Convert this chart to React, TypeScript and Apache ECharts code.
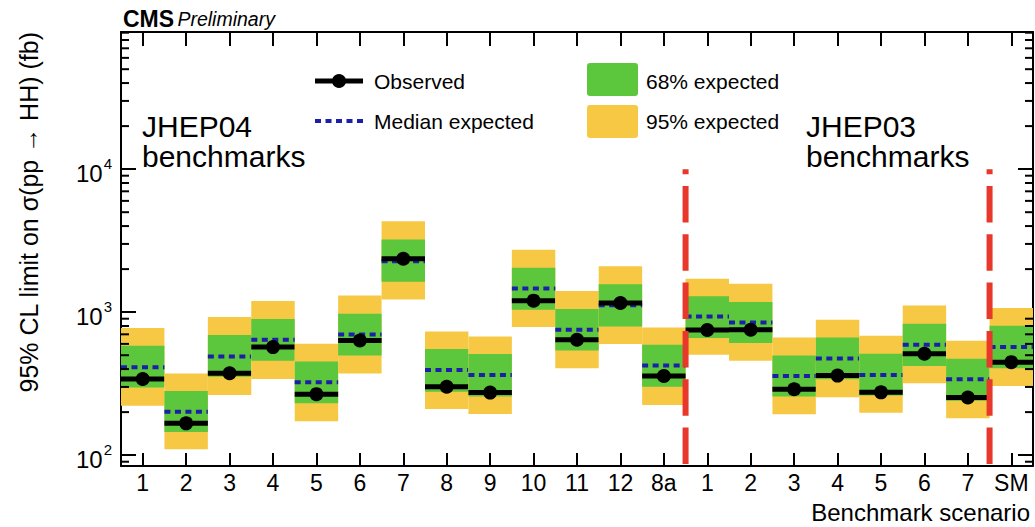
import React, { useEffect, useRef } from 'react';
import * as echarts from 'echarts';

const FONT = '"Liberation Sans", Arial, Helvetica, sans-serif';

// Benchmark categories (JHEP04 1..12, 8a ; JHEP03 1..7 ; SM)
const categories = ['1', '2', '3', '4', '5', '6', '7', '8', '9', '10', '11', '12', '8a', '1', '2', '3', '4', '5', '6', '7', 'SM'];

// 95% CL upper limits (fb)
const observed = [341, 167, 374, 570, 267, 634, 2362, 301, 274, 1204, 641, 1160, 358, 750, 754, 289, 360, 275, 512, 253, 447];
const expectedMedian = [412, 201, 490, 641, 324, 698, 2269, 394, 364, 1462, 754, 1116, 423, 934, 848, 358, 474, 364, 592, 340, 570];
const expected68Low = [297, 145, 354, 457, 231, 498, 1629, 278, 257, 1041, 540, 795, 301, 659, 608, 257, 340, 261, 421, 240, 406];
const expected68High = [582, 281, 692, 896, 452, 976, 3228, 552, 509, 2043, 1053, 1567, 592, 1291, 1179, 498, 665, 512, 830, 472, 804];
const expected95Low = [222, 110, 264, 341, 173, 372, 1224, 210, 194, 787, 406, 598, 224, 504, 457, 193, 254, 198, 318, 181, 305];
const expected95High = [774, 372, 925, 1199, 601, 1306, 4315, 733, 676, 2733, 1408, 2096, 782, 1710, 1578, 665, 886, 684, 1111, 631, 1070];

// axis range and minor ticks
const yMin = 84;
const yMax = 91000;
const minorTickValues = [
  90,
  200, 300, 400, 500, 600, 700, 800, 900,
  2000, 3000, 4000, 5000, 6000, 7000, 8000, 9000,
  20000, 30000, 40000, 50000, 60000, 70000, 80000, 90000,
];

// dividers drawn after these category indices (8a and JHEP03 7), up to this value
const dividerAfter = [12, 19];
const dividerTop = 10000;

const GREEN = '#5cc63c';
const YELLOW = '#f7c844';
const BLUE = '#1c1fa8';
const RED = '#e8372b';

export default function App() {
  const ref = useRef<HTMLDivElement>(null);

  useEffect(() => {
    const chart = echarts.init(ref.current as HTMLDivElement, null, { renderer: 'svg' });

    const bandData = categories.map((_, i) => [
      i,
      expected95Low[i],
      expected68Low[i],
      expectedMedian[i],
      observed[i],
      expected68High[i],
      expected95High[i],
    ]);

    const tickStyle = { color: '#000', width: 2 };
    const axisLineStyle = { color: '#000', width: 2 };

    const option: any = {
      animation: false,
      grid: { left: 121, right: 2, top: 32, bottom: 61, containLabel: false },
      xAxis: [
        {
          type: 'category',
          data: categories,
          position: 'bottom',
          boundaryGap: true,
          axisLine: { show: true, lineStyle: axisLineStyle },
          axisTick: { show: true, inside: true, alignWithLabel: true, interval: 0, length: 13, lineStyle: tickStyle },
          axisLabel: { interval: 0, color: '#000', fontSize: 23, fontFamily: FONT, margin: 5 },
          splitLine: { show: false },
          name: 'Benchmark scenario',
          nameLocation: 'end',
          nameGap: -3,
          nameTextStyle: {
            fontSize: 24,
            fontFamily: FONT,
            color: '#000',
            align: 'right',
            verticalAlign: 'top',
            padding: [34, 0, 0, 0],
          },
        },
        {
          type: 'category',
          data: categories,
          position: 'top',
          boundaryGap: true,
          axisLine: { show: true, lineStyle: axisLineStyle },
          axisTick: { show: true, inside: true, alignWithLabel: true, interval: 0, length: 14, lineStyle: tickStyle },
          axisLabel: { show: false },
          splitLine: { show: false },
        },
      ],
      yAxis: [
        {
          type: 'log',
          logBase: 10,
          min: yMin,
          max: yMax,
          position: 'left',
          axisLine: { show: true, lineStyle: axisLineStyle },
          axisTick: { show: true, inside: true, length: 15, lineStyle: tickStyle },
          splitLine: { show: false },
          axisLabel: {
            margin: 9,
            color: '#000',
            formatter: (v: number) => {
              const l = Math.log10(v);
              const e = Math.round(l);
              if (Math.abs(l - e) > 1e-6) return '';
              return `{base|10}{sup|${e}}`;
            },
            rich: {
              base: { fontSize: 24, fontFamily: FONT, color: '#000', lineHeight: 26, padding: [8, 0, 0, 0] },
              sup: { fontSize: 15, fontFamily: FONT, color: '#000', lineHeight: 15, verticalAlign: 'top', padding: [0, 0, 0, 1] },
            },
          },
        },
        {
          type: 'log',
          logBase: 10,
          min: yMin,
          max: yMax,
          position: 'right',
          axisLine: { show: true, lineStyle: axisLineStyle },
          axisTick: { show: true, inside: true, length: 15, lineStyle: tickStyle },
          splitLine: { show: false },
          axisLabel: { show: false },
        },
      ],
      series: [
        {
          type: 'custom',
          name: 'limits',
          xAxisIndex: 0,
          yAxisIndex: 0,
          data: bandData,
          encode: { x: 0, y: [1, 2, 3, 4, 5, 6] },
          clip: false,
          z: 2,
          renderItem: (params: any, api: any) => {
            const i = api.value(0);
            const w = api.size([1, 1], [i, 1000])[0];
            const c = api.coord([i, api.value(4)]);
            const x0 = c[0] - w / 2;
            const yy = (k: number) => api.coord([i, api.value(k)])[1];
            const y95lo = yy(1);
            const y68lo = yy(2);
            const ymed = yy(3);
            const yobs = c[1];
            const y68hi = yy(5);
            const y95hi = yy(6);
            return {
              type: 'group',
              children: [
                { type: 'rect', shape: { x: x0, y: y95hi, width: w, height: y95lo - y95hi }, style: { fill: YELLOW } },
                { type: 'rect', shape: { x: x0, y: y68hi, width: w, height: y68lo - y68hi }, style: { fill: GREEN } },
                {
                  type: 'line',
                  shape: { x1: x0, y1: ymed, x2: x0 + w, y2: ymed },
                  style: { stroke: BLUE, lineWidth: 4, lineDash: [6, 4.5] },
                },
                { type: 'line', shape: { x1: x0, y1: yobs, x2: x0 + w, y2: yobs }, style: { stroke: '#000', lineWidth: 5 } },
                { type: 'circle', shape: { cx: c[0], cy: yobs, r: 7 }, style: { fill: '#000' } },
              ],
            };
          },
        },
        {
          type: 'custom',
          name: 'dividers',
          xAxisIndex: 0,
          yAxisIndex: 0,
          data: dividerAfter.map((i) => [i, dividerTop, yMin]),
          encode: { x: 0, y: [1, 2] },
          clip: false,
          z: 5,
          renderItem: (params: any, api: any) => {
            const i = api.value(0);
            const w = api.size([1, 1], [i, 1000])[0];
            const top = api.coord([i, api.value(1)]);
            const bottom = api.coord([i, api.value(2)]);
            const x = top[0] + w / 2;
            return {
              type: 'line',
              shape: { x1: x, y1: bottom[1] - 2, x2: x, y2: top[1] },
              style: { stroke: RED, lineWidth: 6, lineDash: [36.5, 11.8] },
            };
          },
        },
        {
          type: 'custom',
          name: 'minorTicks',
          xAxisIndex: 0,
          yAxisIndex: 0,
          data: minorTickValues.map((v) => [0, v]),
          encode: { x: 0, y: 1 },
          clip: false,
          z: 6,
          silent: true,
          renderItem: (params: any, api: any) => {
            const y = api.coord([0, api.value(1)])[1];
            const cs = params.coordSys;
            return {
              type: 'group',
              children: [
                { type: 'line', shape: { x1: cs.x, y1: y, x2: cs.x + 8, y2: y }, style: { stroke: '#000', lineWidth: 2 } },
                {
                  type: 'line',
                  shape: { x1: cs.x + cs.width - 8, y1: y, x2: cs.x + cs.width, y2: y },
                  style: { stroke: '#000', lineWidth: 2 },
                },
              ],
            };
          },
        },
      ],
      graphic: [
        {
          type: 'text',
          x: 123,
          y: 19,
          style: {
            text: '{a|CMS} {b|Preliminary}',
            verticalAlign: 'middle',
            rich: {
              a: { fontSize: 23, fontWeight: 'bold', fontFamily: FONT, fill: '#000' },
              b: { fontSize: 19.5, fontStyle: 'italic', fontFamily: FONT, fill: '#000' },
            },
          },
        },
        {
          type: 'text',
          x: 29,
          y: 32,
          rotation: Math.PI / 2,
          style: {
            text: '95% CL limit on σ(pp → HH) (fb)',
            fontSize: 25,
            fontFamily: FONT,
            fill: '#000',
            align: 'right',
            verticalAlign: 'middle',
          },
        },
        {
          type: 'text',
          x: 142,
          y: 111,
          style: { text: 'JHEP04\nbenchmarks', fontSize: 30, lineHeight: 30, fontFamily: FONT, fill: '#000', verticalAlign: 'top' },
        },
        {
          type: 'text',
          x: 806,
          y: 111,
          style: { text: 'JHEP03\nbenchmarks', fontSize: 30, lineHeight: 30, fontFamily: FONT, fill: '#000', verticalAlign: 'top' },
        },
        // legend
        { type: 'line', shape: { x1: 315, y1: 81, x2: 363, y2: 81 }, style: { stroke: '#000', lineWidth: 5 } },
        { type: 'circle', shape: { cx: 339, cy: 81, r: 7 }, style: { fill: '#000' } },
        { type: 'text', x: 374, y: 81, style: { text: 'Observed', fontSize: 21, fontFamily: FONT, fill: '#000', verticalAlign: 'middle' } },
        { type: 'line', shape: { x1: 315, y1: 121, x2: 363, y2: 121 }, style: { stroke: BLUE, lineWidth: 4, lineDash: [6, 4.5] } },
        { type: 'text', x: 374, y: 121, style: { text: 'Median expected', fontSize: 21, fontFamily: FONT, fill: '#000', verticalAlign: 'middle' } },
        { type: 'rect', shape: { x: 587, y: 63, width: 51, height: 33, r: 3 }, style: { fill: GREEN } },
        { type: 'rect', shape: { x: 587, y: 105, width: 51, height: 33, r: 3 }, style: { fill: YELLOW } },
        { type: 'text', x: 646, y: 81, style: { text: '68% expected', fontSize: 21, fontFamily: FONT, fill: '#000', verticalAlign: 'middle' } },
        { type: 'text', x: 646, y: 121, style: { text: '95% expected', fontSize: 21, fontFamily: FONT, fill: '#000', verticalAlign: 'middle' } },
      ],
    };

    chart.setOption(option);
    return () => {
      chart.dispose();
    };
  }, []);

  return (
    <div
      ref={ref}
      style={{ position: 'absolute', left: 0, top: 0, width: 1035, height: 527, background: '#fff' }}
    />
  );
}
